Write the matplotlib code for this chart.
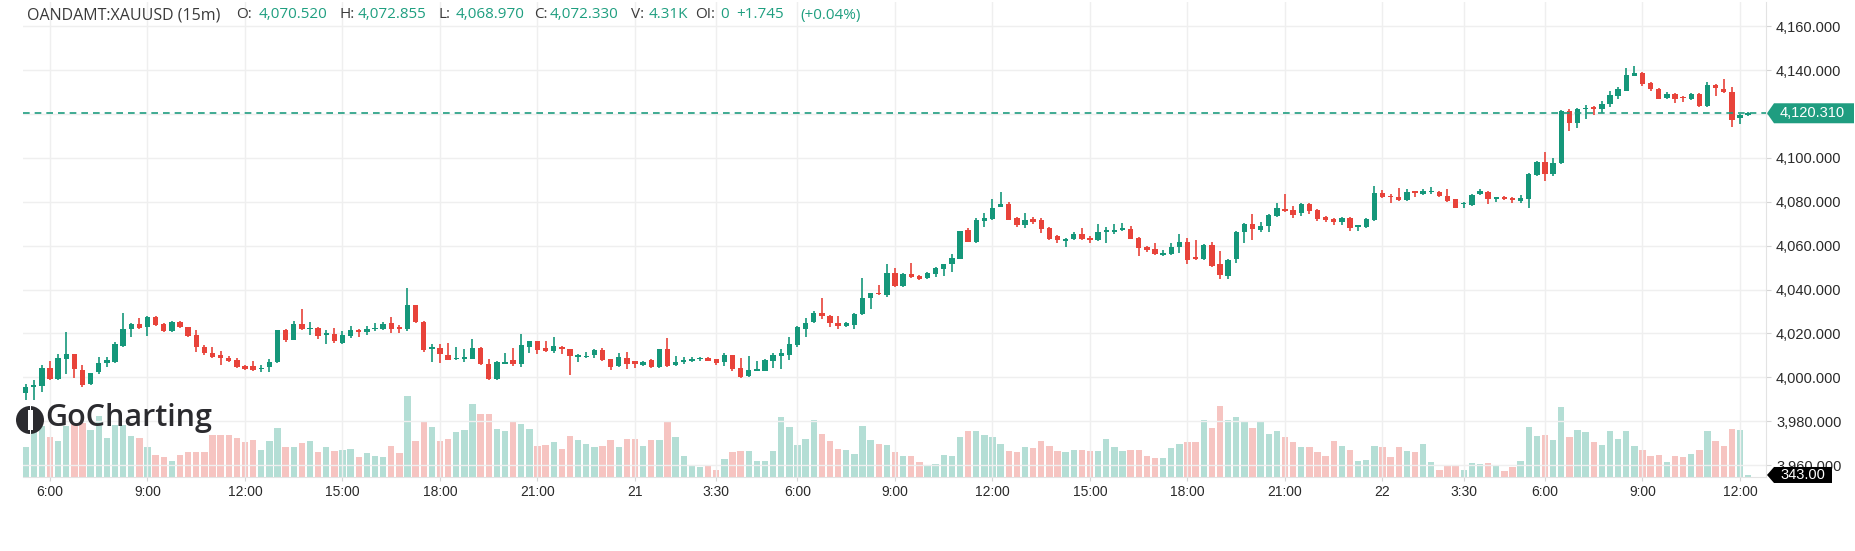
import numpy as np
import matplotlib
matplotlib.use("Agg")
import matplotlib.pyplot as plt
from matplotlib.patches import Polygon, Circle, Rectangle
from matplotlib.transforms import IdentityTransform

# ---- 15m OHLCV, OANDAMT:XAUUSD ----
opens = [
    3992.7, 3995.4, 3996.0, 4004.2, 3999.1, 4008.5, 4010.6, 4003.3, 3996.8, 4002.4, 4006.4, 4007.0,
    4014.3, 4021.9, 4024.1, 4023.1, 4027.6, 4024.3, 4021.1, 4025.4, 4022.9, 4019.3, 4014.0, 4011.2,
    4010.0, 4008.9, 4007.9, 4005.1, 4005.1, 4003.6, 4004.5, 4006.8, 4021.6, 4017.0, 4024.3, 4021.8,
    4022.6, 4019.3, 4019.7, 4015.8, 4018.8, 4021.5, 4020.6, 4021.9, 4022.2, 4024.9, 4022.8, 4021.8,
    4032.9, 4025.3, 4013.0, 4013.5, 4010.1, 4008.2, 4008.2, 4008.5, 4013.5, 4005.9, 3999.1, 4006.3,
    4007.9, 4005.9, 4013.6, 4016.4, 4013.5, 4012.0, 4013.9, 4012.9, 4009.4, 4009.1, 4010.0, 4012.4,
    4008.2, 4005.1, 4008.9, 4007.3, 4005.7, 4007.9, 4004.5, 4012.7, 4005.6, 4007.1, 4007.6, 4008.2,
    4008.8, 4008.2, 4007.0, 4010.0, 4004.1, 4000.6, 4003.0, 4003.0, 4007.4, 4009.7, 4010.3, 4014.9,
    4022.2, 4025.0, 4029.4, 4028.1, 4024.9, 4023.4, 4023.8, 4028.8, 4036.0, 4038.3, 4037.5, 4047.7,
    4041.6, 4046.9, 4046.1, 4045.1, 4047.1, 4049.2, 4051.5, 4054.0, 4067.1, 4061.6, 4071.2, 4072.3,
    4077.7, 4078.9, 4072.7, 4069.4, 4072.1, 4071.7, 4068.2, 4064.4, 4062.2, 4062.9, 4065.1, 4063.5,
    4062.5, 4066.3, 4066.3, 4067.1, 4067.6, 4063.6, 4059.4, 4058.4, 4055.7, 4056.0, 4059.2, 4061.8,
    4054.7, 4053.7, 4060.1, 4051.5, 4046.1, 4053.7, 4066.2, 4069.7, 4067.1, 4068.9, 4073.5, 4076.7,
    4076.2, 4074.7, 4078.8, 4076.2, 4073.2, 4072.1, 4070.7, 4072.7, 4068.3, 4068.6, 4071.7, 4084.1,
    4082.6, 4082.3, 4080.8, 4084.6, 4083.5, 4084.3, 4084.6, 4082.7, 4081.1, 4079.0, 4078.5, 4083.4,
    4084.6, 4081.1, 4082.3, 4081.8, 4080.5, 4081.1, 4092.2, 4098.2, 4092.6, 4097.5, 4121.5, 4115.7,
    4122.1, 4123.0, 4122.1, 4124.4, 4128.3, 4130.6, 4137.4, 4138.8, 4134.2, 4131.3, 4127.1, 4129.1,
    4127.8, 4126.9, 4129.1, 4123.6, 4133.3, 4131.2, 4130.1, 4118.0, 4119.4,
]
highs = [
    3997.0, 3998.8, 4005.6, 4007.4, 4010.6, 4020.5, 4010.7, 4005.6, 4002.1, 4009.4, 4009.4, 4016.1,
    4029.1, 4024.9, 4026.9, 4028.1, 4028.1, 4024.6, 4025.8, 4025.8, 4023.1, 4021.6, 4014.7, 4014.0,
    4012.1, 4009.7, 4008.6, 4005.6, 4007.4, 4005.6, 4008.2, 4021.7, 4021.9, 4025.6, 4031.0, 4025.0,
    4023.1, 4021.5, 4022.3, 4021.2, 4023.5, 4021.8, 4023.5, 4024.9, 4025.3, 4027.3, 4023.8, 4040.5,
    4033.0, 4025.6, 4015.2, 4015.2, 4015.5, 4013.6, 4012.7, 4017.3, 4013.6, 4008.2, 4007.6, 4010.9,
    4013.2, 4019.7, 4016.7, 4016.7, 4016.7, 4018.2, 4014.3, 4012.9, 4010.5, 4011.7, 4013.0, 4013.2,
    4008.5, 4010.9, 4011.7, 4007.6, 4007.6, 4008.2, 4012.9, 4017.7, 4009.7, 4009.1, 4009.1, 4009.1,
    4009.1, 4008.5, 4010.9, 4010.2, 4008.6, 4009.7, 4007.6, 4008.2, 4011.2, 4012.7, 4018.2, 4023.5,
    4026.9, 4030.2, 4036.0, 4028.4, 4027.9, 4025.3, 4029.4, 4045.1, 4038.6, 4042.0, 4051.5, 4049.6,
    4047.4, 4051.9, 4046.6, 4048.1, 4050.1, 4051.8, 4056.4, 4066.8, 4067.9, 4072.4, 4074.7, 4081.1,
    4084.3, 4080.0, 4073.2, 4075.1, 4073.2, 4072.4, 4068.6, 4064.8, 4063.3, 4066.3, 4068.2, 4064.4,
    4069.7, 4068.6, 4069.7, 4070.1, 4068.9, 4064.1, 4059.8, 4061.0, 4058.0, 4061.0, 4065.3, 4063.7,
    4062.5, 4060.6, 4061.5, 4057.5, 4053.7, 4066.7, 4070.1, 4074.4, 4070.7, 4074.4, 4079.3, 4083.4,
    4078.0, 4079.6, 4079.3, 4076.5, 4073.6, 4072.4, 4073.2, 4072.9, 4069.5, 4072.4, 4087.3, 4085.3,
    4083.5, 4086.1, 4085.6, 4084.9, 4085.6, 4086.5, 4084.9, 4085.6, 4081.4, 4080.0, 4083.5, 4085.6,
    4084.9, 4082.3, 4082.6, 4082.1, 4083.0, 4092.9, 4098.5, 4102.5, 4099.8, 4121.8, 4122.1, 4122.5,
    4124.0, 4123.6, 4126.0, 4130.6, 4132.4, 4140.8, 4141.8, 4139.1, 4134.5, 4131.6, 4129.8, 4129.4,
    4128.1, 4129.7, 4129.4, 4134.5, 4133.6, 4135.7, 4132.1, 4119.8, 4120.9,
]
lows = [
    3989.7, 3989.7, 3993.5, 3998.8, 3998.9, 4001.5, 3999.5, 3995.7, 3996.5, 4001.3, 4004.5, 4006.7,
    4014.0, 4018.5, 4022.0, 4019.0, 4023.5, 4020.8, 4020.8, 4022.6, 4018.5, 4011.7, 4010.2, 4008.6,
    4005.6, 4007.1, 4004.1, 4003.3, 4003.0, 4002.6, 4002.6, 4006.7, 4016.2, 4016.9, 4021.6, 4019.3,
    4017.3, 4015.2, 4015.8, 4015.2, 4017.9, 4018.5, 4019.3, 4021.2, 4021.5, 4020.0, 4020.0, 4021.1,
    4024.9, 4011.7, 4007.1, 4006.4, 4007.8, 4007.9, 4007.1, 4008.2, 4005.6, 3998.8, 3998.8, 4005.9,
    4005.1, 4004.8, 4010.9, 4010.5, 4011.7, 4010.9, 4010.6, 4001.1, 4007.1, 4008.9, 4008.6, 4007.6,
    4003.3, 4004.8, 4003.6, 4004.1, 4005.3, 4004.1, 4004.1, 4004.8, 4005.3, 4006.1, 4007.1, 4007.6,
    4007.3, 4005.7, 4005.3, 4003.0, 3999.5, 4000.3, 4002.9, 4002.7, 4004.4, 4003.6, 4007.9, 4014.0,
    4018.5, 4024.9, 4026.4, 4023.1, 4021.9, 4022.8, 4021.9, 4028.4, 4031.0, 4037.6, 4036.7, 4041.3,
    4041.3, 4045.2, 4044.3, 4044.8, 4045.8, 4046.1, 4048.1, 4053.7, 4061.5, 4061.3, 4068.6, 4071.9,
    4077.4, 4071.7, 4068.6, 4068.2, 4069.8, 4065.6, 4062.8, 4061.3, 4059.5, 4062.5, 4062.5, 4061.3,
    4062.2, 4061.3, 4065.3, 4066.8, 4062.9, 4055.4, 4057.2, 4055.7, 4055.3, 4055.7, 4056.5, 4051.6,
    4053.4, 4053.4, 4050.4, 4044.6, 4044.6, 4051.9, 4061.3, 4062.5, 4066.3, 4066.3, 4073.2, 4075.5,
    4072.4, 4073.5, 4074.4, 4071.4, 4070.9, 4069.4, 4069.4, 4066.8, 4066.8, 4067.9, 4071.4, 4081.7,
    4079.3, 4080.5, 4080.5, 4082.3, 4083.0, 4083.5, 4082.0, 4080.0, 4077.0, 4077.0, 4078.2, 4082.9,
    4078.9, 4080.0, 4080.8, 4079.3, 4079.3, 4077.0, 4091.7, 4089.6, 4091.9, 4097.2, 4112.4, 4113.4,
    4117.5, 4119.5, 4120.3, 4123.0, 4126.6, 4130.3, 4137.1, 4132.7, 4130.6, 4126.6, 4126.6, 4125.1,
    4125.6, 4126.3, 4123.3, 4123.3, 4128.3, 4129.7, 4114.2, 4115.4, 4119.0,
]
closes = [
    3995.7, 3996.3, 4004.2, 3999.1, 4008.8, 4010.6, 4003.6, 3996.5, 4001.8, 4006.4, 4007.9, 4015.2,
    4021.9, 4024.3, 4022.3, 4027.6, 4023.8, 4021.1, 4025.4, 4022.8, 4018.8, 4014.0, 4010.9, 4009.4,
    4008.6, 4007.4, 4004.5, 4003.9, 4003.3, 4004.2, 4007.1, 4021.6, 4017.0, 4024.3, 4021.9, 4022.3,
    4018.9, 4020.0, 4016.4, 4019.3, 4021.5, 4020.6, 4022.2, 4022.6, 4024.3, 4022.2, 4022.2, 4032.9,
    4025.0, 4012.4, 4013.6, 4010.5, 4007.9, 4008.6, 4009.1, 4013.5, 4005.9, 3999.1, 4007.1, 4007.1,
    4005.9, 4014.6, 4016.4, 4012.4, 4012.0, 4014.3, 4012.7, 4009.7, 4010.2, 4009.8, 4012.4, 4007.9,
    4004.8, 4009.1, 4005.9, 4006.3, 4007.0, 4004.5, 4012.7, 4005.1, 4007.0, 4007.9, 4008.5, 4008.8,
    4007.6, 4006.7, 4010.2, 4003.6, 4000.3, 4003.3, 4003.8, 4007.9, 4010.2, 4010.9, 4015.2, 4022.8,
    4024.9, 4029.4, 4028.1, 4024.6, 4023.4, 4024.9, 4028.8, 4036.0, 4038.3, 4037.8, 4047.7, 4041.6,
    4047.1, 4045.5, 4044.6, 4047.7, 4049.8, 4051.5, 4054.5, 4066.6, 4061.6, 4071.7, 4072.7, 4077.3,
    4078.8, 4071.9, 4069.4, 4071.7, 4070.9, 4067.7, 4063.2, 4062.5, 4063.0, 4065.1, 4062.9, 4062.5,
    4066.3, 4067.1, 4067.1, 4067.9, 4063.0, 4058.8, 4058.0, 4056.0, 4056.5, 4059.5, 4061.8, 4053.4,
    4053.7, 4060.3, 4050.7, 4046.6, 4053.4, 4066.4, 4069.7, 4067.4, 4068.9, 4073.8, 4077.3, 4075.7,
    4073.9, 4079.0, 4075.7, 4072.3, 4071.7, 4070.6, 4072.7, 4068.2, 4069.2, 4072.1, 4084.1, 4082.0,
    4082.0, 4080.8, 4084.6, 4084.1, 4084.9, 4085.0, 4082.6, 4080.5, 4077.3, 4079.6, 4083.1, 4084.9,
    4081.1, 4082.0, 4081.4, 4080.8, 4081.8, 4092.6, 4098.2, 4092.6, 4097.5, 4121.5, 4115.7, 4122.1,
    4122.8, 4122.1, 4124.5, 4128.6, 4131.3, 4137.7, 4138.8, 4133.6, 4131.2, 4126.9, 4129.1, 4126.6,
    4127.1, 4129.1, 4123.6, 4133.2, 4131.6, 4130.0, 4117.2, 4119.5, 4120.31,
]
volumes = [
    5100, 8500, 8670, 6800, 6120, 8670, 9010, 9180, 7990, 10370, 6630, 8840,
    8840, 6970, 6630, 5100, 3740, 3400, 2720, 3740, 4250, 4250, 4250, 7140,
    7140, 7140, 6630, 5950, 6290, 4590, 6120, 8330, 5100, 5100, 5780, 6120,
    4250, 5100, 4420, 4590, 4760, 3400, 4080, 3570, 3400, 5270, 4080, 13770,
    6120, 9350, 8500, 6120, 6460, 7650, 7990, 12410, 10710, 10710, 8160, 7820,
    9520, 9010, 8160, 5270, 5440, 5950, 4760, 6970, 6290, 5610, 5100, 5270,
    6290, 5100, 6460, 6460, 5270, 6290, 6290, 9350, 6800, 3570, 1870, 1700,
    2040, 1190, 3060, 4250, 4420, 4420, 2720, 2720, 4420, 10200, 8500, 5440,
    6460, 9690, 7310, 6120, 4760, 4590, 3910, 8670, 6290, 5610, 5440, 4250,
    3570, 3570, 2550, 2040, 2210, 3740, 3570, 6800, 7820, 7820, 7140, 6800,
    5610, 4420, 4250, 5100, 4930, 6120, 5270, 4420, 4250, 4590, 4590, 4420,
    4420, 6460, 5100, 4420, 4590, 4590, 3570, 3230, 3230, 4930, 5610, 5950,
    5950, 9690, 8330, 12070, 9690, 10200, 9520, 8330, 9350, 7310, 7820, 6800,
    5950, 5100, 5100, 4250, 3570, 6120, 5270, 4590, 2720, 2890, 5270, 5100,
    3400, 5100, 4420, 4250, 5610, 2550, 1190, 2040, 1870, 1190, 2380, 2210,
    2380, 1870, 1020, 1700, 2720, 8500, 6970, 7140, 6290, 11900, 6800, 7990,
    7650, 5950, 5440, 7820, 6460, 7820, 5270, 4590, 3570, 3740, 2550, 3570,
    3400, 3910, 4590, 7820, 6120, 5270, 8160, 7990, 343,
]

tick_idx = [3, 15, 27, 39, 51, 63, 75, 85, 95, 107, 119, 131, 143, 155, 167, 177, 187, 199, 211]
tick_lab = ["6:00", "9:00", "12:00", "15:00", "18:00", "21:00", "21", "3:30", "6:00",
            "9:00", "12:00", "15:00", "18:00", "21:00", "22", "3:30", "6:00", "9:00", "12:00"]
price_ticks = [3960, 3980, 4000, 4020, 4040, 4060, 4080, 4100, 4120, 4140, 4160]
last_price = 4120.31
last_volume = 343

header = [("OANDAMT:XAUUSD (15m)", 27, "lab"), ("O:", 236, "lab"), ("4,070.520", 259, "val"),
          ("H:", 340, "lab"), ("4,072.855", 358, "val"), ("L:", 439, "lab"),
          ("4,068.970", 456, "val"), ("C:", 534, "lab"), ("4,072.330", 550, "val"),
          ("V:", 631, "lab"), ("4.31K", 649, "val"), ("OI:", 695, "lab"), ("0", 720, "val"),
          ("+1.745", 736, "val"), ("(+0.04%)", 800, "val")]

GREEN, RED = "#15977a", "#e8433a"
VGREEN, VRED = "#b4ded5", "#f6c4c1"
W, H = 1856, 551
L, R, T, B = 23, 1766, 2, 477

o, h, l, c = map(np.array, (opens, highs, lows, closes))
x = np.arange(len(o))
up = c >= o

fig = plt.figure(figsize=(W / 100, H / 100), dpi=100)
ax = fig.add_axes([L / W, 1 - B / H, (R - L) / W, (B - T) / H])
ax2 = ax.twinx()
ax.set_zorder(2)
ax2.set_zorder(1)
ax.patch.set_visible(False)

# volume pane (behind candles)
ax2.bar(x, volumes, width=0.78, color=np.where(up, VGREEN, VRED), linewidth=0)
ax2.set_ylim(0, 80750)
ax2.set_yticks([])
for s in ax2.spines.values():
    s.set_visible(False)

# candles
col = np.where(up, GREEN, RED)
ax.vlines(x, l, h, colors=col, lw=1.2, zorder=3)
ax.bar(x, np.maximum(np.abs(c - o), 0.6), bottom=np.minimum(o, c), width=0.66,
       color=col, linewidth=0, zorder=4)
ax.axhline(last_price, color="#1f9d80", lw=1.2, ls=(0, (4, 3)), zorder=5)

ax.set_xlim(-0.32, 214.2)
ax.set_ylim(3954.6, 4171.0)
ax.set_yticks(price_ticks)
# the 4,120 label sits under the last-price tag
ax.set_yticklabels(["" if v == 4120 else f"{v:,.3f}" for v in price_ticks])
ax.set_xticks(tick_idx)
ax.set_xticklabels(tick_lab)
ax.yaxis.tick_right()
ax.grid(color="#efefef", lw=1, zorder=0)
for k, s in ax.spines.items():
    s.set_visible(k in ("right", "bottom"))
    s.set_color("#e3e3e3")
ax.tick_params(axis="y", length=3.6, pad=3.6, color="#d5d5d5", labelcolor="#2a2a2a",
               labelsize=10.5, labelfontfamily="Liberation Sans")
ax.tick_params(axis="x", length=3, pad=3, color="#d5d5d5", labelcolor="#2a2a2a",
               labelsize=10, labelfontfamily="Liberation Sans")

# price / volume tags on the right scale
fig.canvas.draw()
ident = IdentityTransform()
xa = ax.transAxes.transform((1, 0))[0]


def tag(yd, text, fc, w, hh):
    pts = [(xa + 1, yd), (xa + 8, yd + hh / 2), (xa + w, yd + hh / 2),
           (xa + w, yd - hh / 2), (xa + 8, yd - hh / 2)]
    fig.add_artist(Polygon(pts, closed=True, transform=ident, fc=fc, ec="none", zorder=6))
    fig.text(xa + 14, yd, text, transform=ident, color="white", va="center", ha="left",
             fontsize=10.5, family="Liberation Sans", zorder=7)


tag(ax.transData.transform((0, last_price))[1], f"{last_price:,.3f}", "#1f9d80", 88, 20)
tag(ax2.transData.transform((0, last_volume))[1], f"{last_volume:.2f}", "#000000", 66, 16)

# header line
for txt, px, kind in header:
    fig.text(px / W, 1 - 15 / H, txt, va="center", ha="left",
             fontsize=11.5 if kind == "lab" and px < 100 else 11,
             family="Open Sans", color="#3a3a3a" if kind == "lab" else "#1f9f80")

# watermark logo (pixel coordinates)
fig.add_artist(Circle((30, H - 420), 14, transform=ident, fc="#2b2b2f", ec="none", zorder=8))
fig.add_artist(Rectangle((27.5, H - 430), 5.5, 20, transform=ident, fc="white", ec="none",
                         zorder=9))
fig.add_artist(Rectangle((29.6, H - 436), 1.4, 32, transform=ident, fc="white", ec="none",
                         zorder=9))
fig.text(45 / W, 1 - 418 / H, "GoCharting", va="center", ha="left", fontsize=22,
         family="Open Sans", weight="semibold", color="#2b2b2f", zorder=9)

fig.savefig("out.png", dpi=100)
